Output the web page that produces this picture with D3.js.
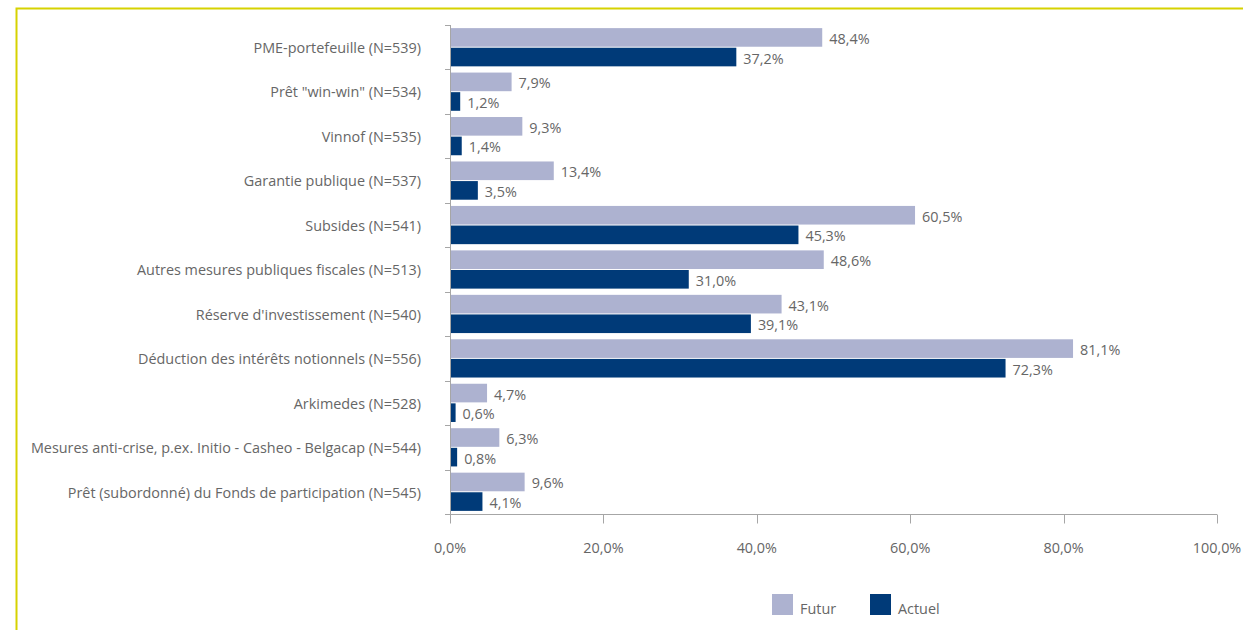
<!DOCTYPE html>
<html>
<head>
<meta charset="utf-8">
<script src="https://cdn.jsdelivr.net/npm/d3@7"></script>
<style>
  body { margin: 0; background: #fff; }
  svg { display: block; font-family: "Open Sans", "Noto Sans", sans-serif; }
</style>
</head>
<body>
<svg width="1243" height="630"></svg>
<script>
const categories = [
  "PME-portefeuille (N=539)",
  "Prêt \"win-win\" (N=534)",
  "Vinnof (N=535)",
  "Garantie publique (N=537)",
  "Subsides (N=541)",
  "Autres mesures publiques fiscales (N=513)",
  "Réserve d'investissement (N=540)",
  "Déduction des intérêts notionnels (N=556)",
  "Arkimedes (N=528)",
  "Mesures anti-crise, p.ex. Initio - Casheo - Belgacap (N=544)",
  "Prêt (subordonné) du Fonds de participation (N=545)"
];
const futur = [48.4, 7.9, 9.3, 13.4, 60.5, 48.6, 43.1, 81.1, 4.7, 6.3, 9.6];
const actuel = [37.2, 1.2, 1.4, 3.5, 45.3, 31.0, 39.1, 72.3, 0.6, 0.8, 4.1];
const seriesNames = ["Futur", "Actuel"];
const xTicks = [0, 20, 40, 60, 80, 100];

const svg = d3.select("svg");
const width = +svg.attr("width");
const height = +svg.attr("height");

const colors = { Futur: "#adb2d0", Actuel: "#003a78" };
const textColor = "#666666";
const fontSize = "14.4px";
const fmt = v => v.toFixed(1).replace(".", ",") + "%";

// yellow frame (top + left edges)
svg.append("path")
  .attr("d", `M16.5,${height} V8.5 H${width}`)
  .attr("fill", "none")
  .attr("stroke", "#d6d200")
  .attr("stroke-width", 2);

const plotLeft = 450, plotRight = 1217, plotTop = 25, plotBottom = 514;

const x = d3.scaleLinear().domain([0, 100]).range([plotLeft, plotRight]);
const y = d3.scaleBand().domain(categories).range([plotTop, plotBottom]).paddingInner(0.14).paddingOuter(0.07);
const ySub = d3.scaleBand().domain(seriesNames).range([0, y.bandwidth()]).paddingInner(0.05);

const rows = categories.map((c, i) => ({ cat: c, Futur: futur[i], Actuel: actuel[i] }));

const g = svg.append("g");
const groups = g.selectAll("g.row")
  .data(rows)
  .join("g")
  .attr("class", "row")
  .attr("transform", d => `translate(0,${y(d.cat)})`);

groups.selectAll("rect")
  .data(d => seriesNames.map(s => ({ s, v: d[s] })))
  .join("rect")
  .attr("x", x(0) + 1)
  .attr("y", d => ySub(d.s))
  .attr("width", d => x(d.v) - x(0))
  .attr("height", ySub.bandwidth())
  .attr("fill", d => colors[d.s]);

groups.selectAll("text")
  .data(d => seriesNames.map(s => ({ s, v: d[s] })))
  .join("text")
  .attr("x", d => x(d.v) + 8)
  .attr("y", d => ySub(d.s) + ySub.bandwidth() / 2)
  .attr("dy", "0.45em")
  .attr("fill", textColor)
  .style("font-size", fontSize)
  .text(d => fmt(d.v));

// y axis with category boundary ticks
const stepY = y.step();
const yAxis = svg.append("g");
yAxis.append("line")
  .attr("x1", plotLeft + 0.5).attr("x2", plotLeft + 0.5)
  .attr("y1", plotTop).attr("y2", plotBottom)
  .attr("stroke", "#a6a6a6");
yAxis.selectAll("line.tick")
  .data(d3.range(categories.length + 1))
  .join("line")
  .attr("class", "tick")
  .attr("x1", plotLeft - 5).attr("x2", plotLeft + 0.5)
  .attr("y1", i => Math.round(plotTop + i * stepY) + 0.5)
  .attr("y2", i => Math.round(plotTop + i * stepY) + 0.5)
  .attr("stroke", "#a6a6a6");
yAxis.selectAll("text")
  .data(categories)
  .join("text")
  .attr("x", 421)
  .attr("y", d => y(d) + y.bandwidth() / 2)
  .attr("dy", "0.4em")
  .attr("text-anchor", "end")
  .attr("fill", textColor)
  .style("font-size", fontSize)
  .text(d => d);

// x axis
const xAxis = svg.append("g").attr("transform", `translate(0,${plotBottom + 0.5})`);
xAxis.append("line")
  .attr("x1", plotLeft - 5).attr("x2", plotRight)
  .attr("stroke", "#a6a6a6");
xAxis.selectAll("line.tick")
  .data(xTicks)
  .join("line")
  .attr("class", "tick")
  .attr("x1", d => Math.round(x(d)) + 0.5).attr("x2", d => Math.round(x(d)) + 0.5)
  .attr("y1", 0).attr("y2", 9)
  .attr("stroke", "#a6a6a6");
xAxis.selectAll("text")
  .data(xTicks)
  .join("text")
  .attr("x", d => x(d))
  .attr("y", 38)
  .attr("text-anchor", "middle")
  .attr("fill", textColor)
  .style("font-size", fontSize)
  .text(d => d.toFixed(1).replace(".", ",") + "%");

// legend
const legend = svg.append("g").attr("transform", "translate(772,594)");
const li = legend.selectAll("g")
  .data(seriesNames)
  .join("g")
  .attr("transform", (d, i) => `translate(${i * 98},0)`);
li.append("rect").attr("width", 21).attr("height", 21).attr("fill", d => colors[d]);
li.append("text")
  .attr("x", 28).attr("y", 20)
  .attr("fill", textColor)
  .style("font-size", fontSize)
  .text(d => d);
</script>
</body>
</html>
